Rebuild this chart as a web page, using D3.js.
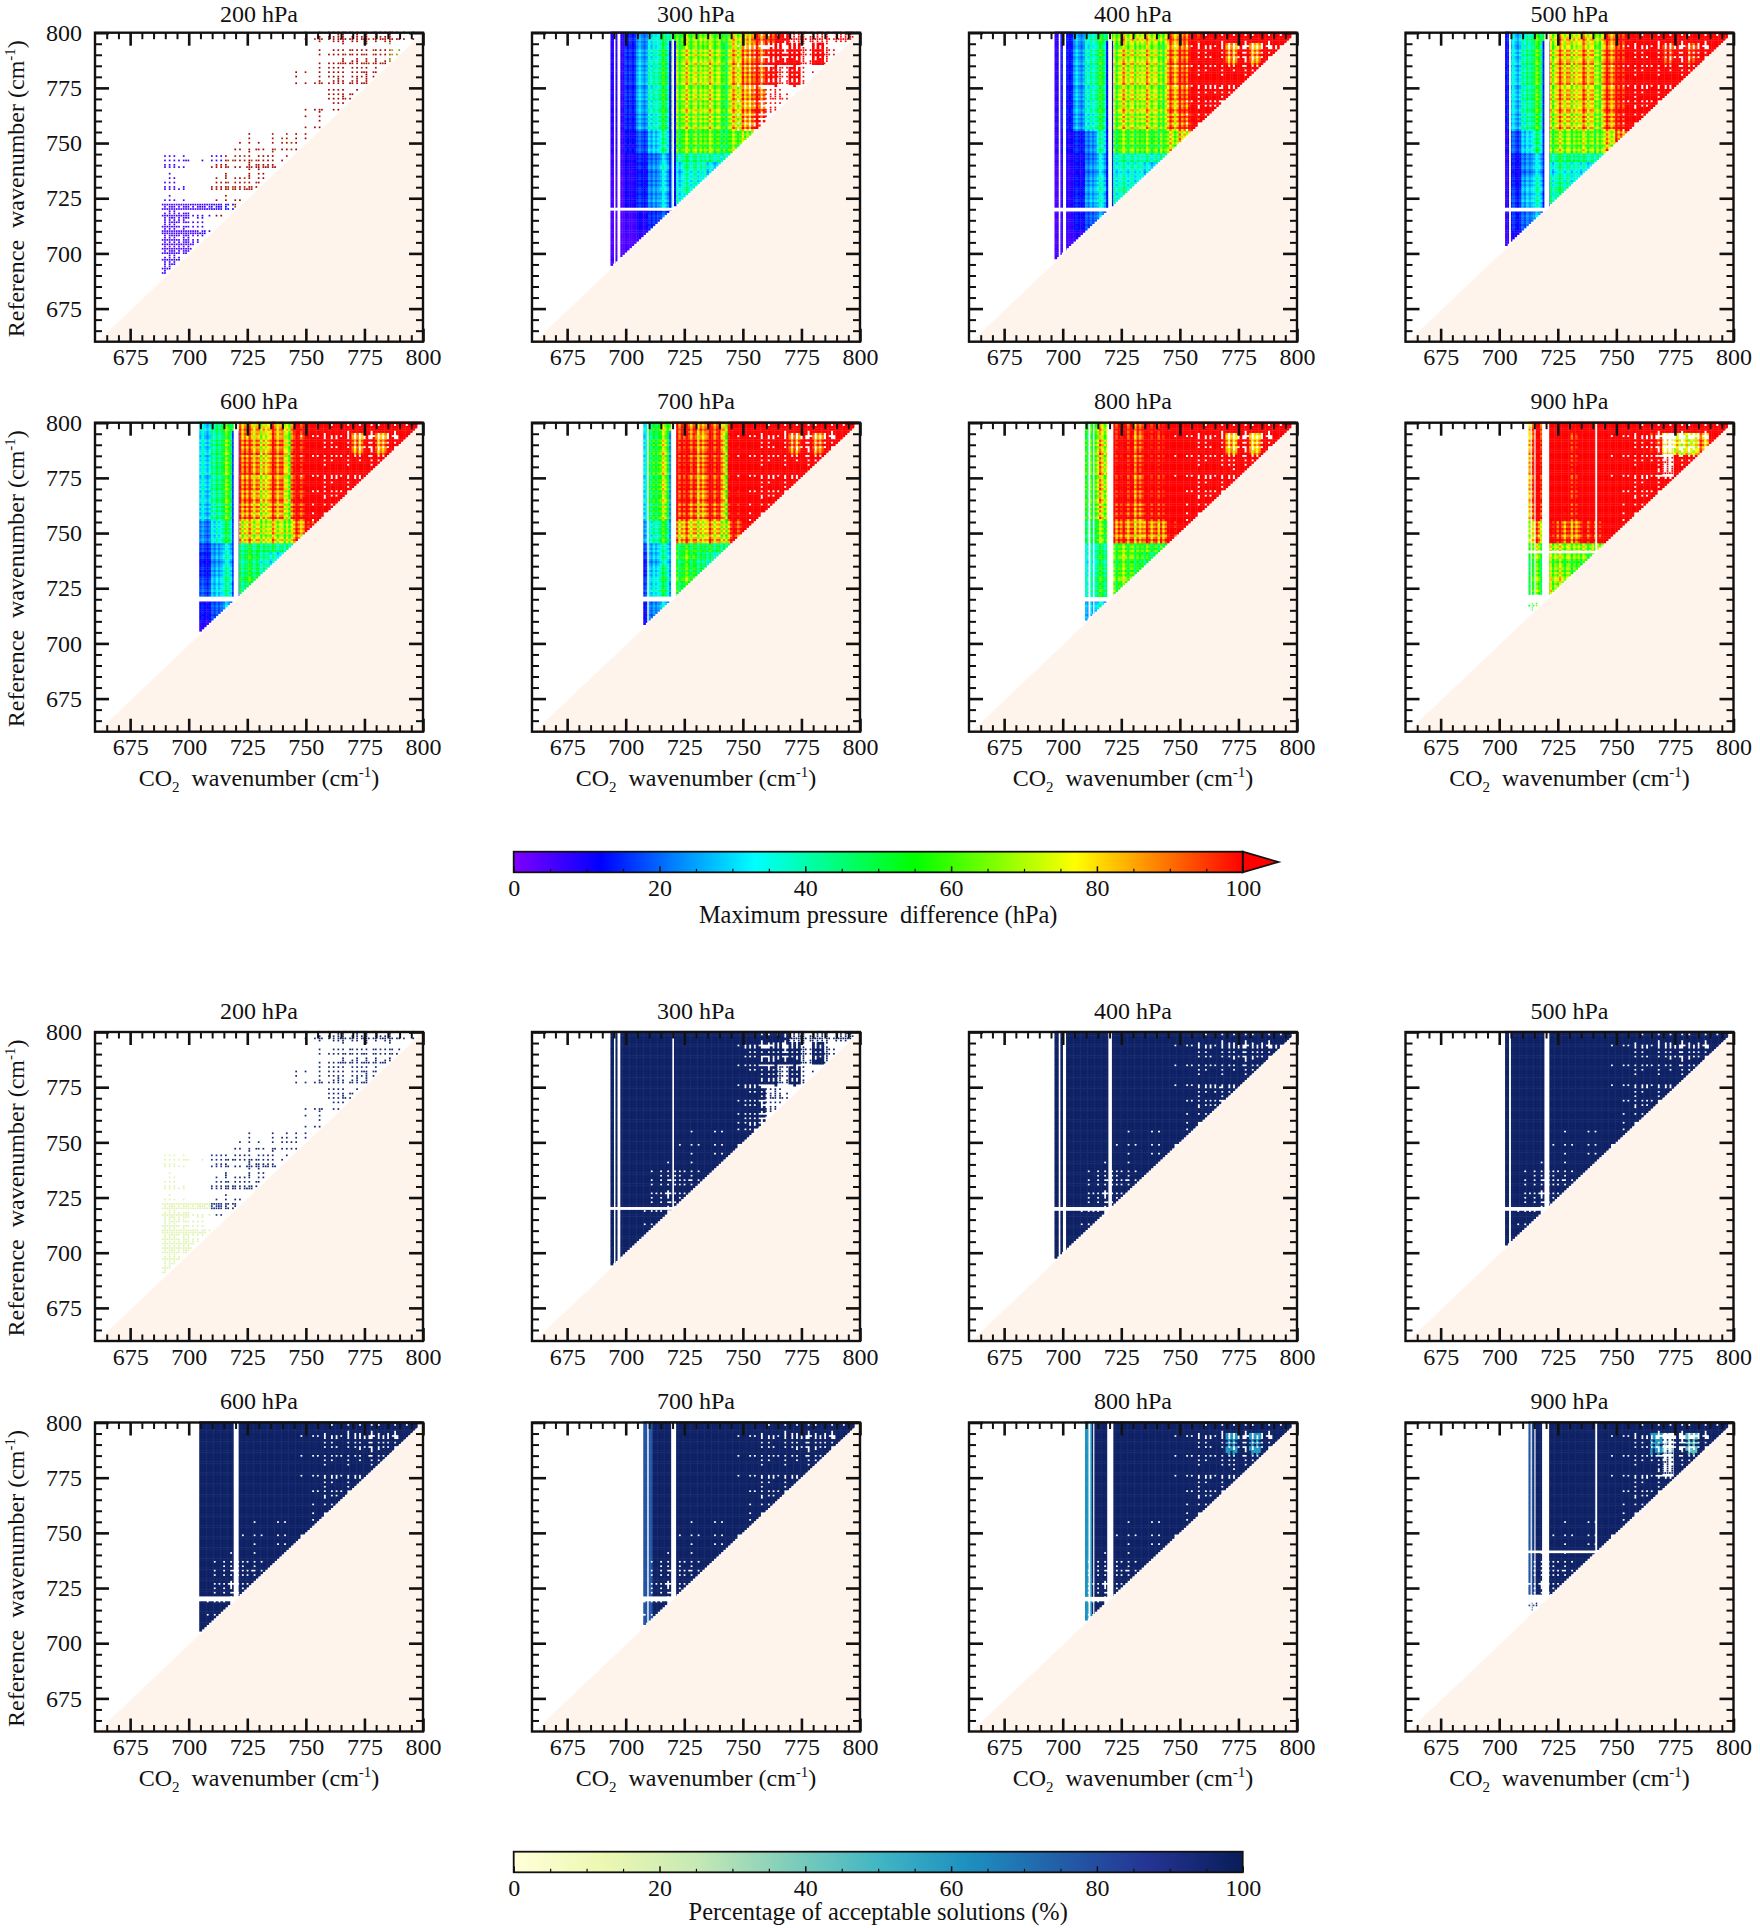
<!DOCTYPE html>
<html>
<head>
<meta charset="utf-8">
<title>Maximum pressure difference and acceptable solutions</title>
<script src="https://cdn.jsdelivr.net/npm/d3@7"></script>
<style>
  html, body { margin: 0; padding: 0; background: #fff; }
  text { font-family: "Liberation Serif", serif; font-size: 24px; fill: #111; white-space: pre; }
</style>
</head>
<body>
<svg id="chart" width="1760" height="1928"></svg>
<script>
// Pressure levels, one panel each, in both groups
var levels = [200, 300, 400, 500, 600, 700, 800, 900];
var axisTicks = [675, 700, 725, 750, 775, 800];
var axisMinor = [665, 670, 680, 685, 690, 695, 705, 710, 715, 720, 730, 735, 740, 745, 755, 760, 765, 770, 780, 785, 790, 795];
var barTicks = [0, 20, 40, 60, 80, 100];
var barMinor = [5, 10, 15, 25, 30, 35, 45, 50, 55, 65, 70, 75, 85, 90, 95];

// Colour bars (value, colour)
var dpStops = [0, 12, 22, 33, 55, 77, 100];
var dpColors = ["#8000ff", "#0000ff", "#0080ff", "#00ffff", "#00ff00", "#ffff00", "#ff0000"];
var pctStops = [0, 12, 25, 38, 50, 62, 75, 87, 100];
var pctColors = ["#ffffd9", "#edf8b1", "#c7e9b4", "#7fcdbb", "#41b6c4", "#1d91c0", "#225ea8", "#253494", "#081d58"];

// Bands of the tables below, wavenumber in cm-1. Rows go from the top of the panel down.
var rowEdges = [800, 795, 785, 775, 765, 755, 745, 741, 735, 728, 722, 719, 710, 700, 688];
var colEdges = [688, 700, 705, 710, 715, 720, 725, 730, 735, 740, 745, 750, 755, 760, 765, 770, 775, 780, 785, 790, 800];

// First CO2 wavenumber with a solution in each panel
var startWn = [689, 694, 697, 703, 705, 708, 710, 713];

// Channels with no data at all
var colGaps = [
  [],
  [[695, 695.6], [696.5, 697.7], [719.9, 720.6]],
  [[698.3, 699], [700.1, 701.4], [719.5, 721]],
  [[704.2, 705], [719.3, 721.4]],
  [[719.2, 721.3]],
  [[709.2, 709.8], [719.4, 721.5]],
  [[711, 711.8], [713, 713.5], [719, 721.6]],
  [[713.4, 713.9], [715, 715.5], [718.3, 721.3], [741, 741.8]]
];
var rowGaps = [
  [],
  [[719.4, 720.7]],
  [[719, 720.7]],
  [[719, 720.7]],
  [[719, 721.2]],
  [[719, 721.2]],
  [[719, 721]],
  [[718.5, 722], [740.8, 742]]
];

// Blue channels on each side of the 720 gap, max pressure difference (hPa)
var edgeCols = [719, 721];
var edgeValue = [null, 13, 13, 14, 16, 25, null, null];
// Green channel near 742 above the 745 row
var stripeCols = [742, 743];
var stripeValue = [null, 52, 60, 62, 66, 70, null, null];

// Channel quality read from the stripes, 0 = best, 9 = worst, from 660 to 800 cm-1
var rankX = ("1728630958" + "2716940385" + "1627305948" + "2806174935" +
             "1738260594" + "3816270495" + "2718360594" + "1826370495" +
             "2917360485" + "1738260495" + "3827160594" + "2718350694" +
             "1836270495" + "2718360594" + "1").split("").map(Number);
var rankY = ("3162748059" + "2718306495" + "1627384950" + "3172648059" +
             "2618374950" + "1728364059" + "2638174950" + "1728364950" +
             "2617384059" + "1627389059" + "2719306849" + "1627389045" +
             "2617390458" + "1728964035" + "1").split("").map(Number);

// Maximum pressure difference (hPa) per band; above 100 is the arrow of the colour bar
var dp200 = [
  [90, 90, 90, 90, 90, 90, 90, 90, 90, 90, 88, 80, 85, 90, 92, 95, 85, 90, 95, 90],
  [90, 90, 90, 90, 90, 90, 90, 90, 90, 90, 85, 80, 85, 88, 90, 95, 85, 88, 70, 60],
  [90, 90, 90, 90, 90, 90, 90, 90, 90, 90, 82, 80, 85, 90, 92, 88, 90, 85],
  [90, 90, 90, 90, 90, 90, 90, 90, 90, 90, 85, 85, 85, 92, 90, 90],
  [90, 90, 90, 90, 90, 90, 90, 90, 90, 90, 85, 85, 88, 90],
  [6, 6, 6, 85, 85, 85, 88, 85, 80, 82, 85, 85],
  [5, 5, 6, 6, 85, 85, 85, 90, 85, 85],
  [5, 5, 5, 85, 85, 85, 90, 95, 95, 90],
  [5, 5, 5, 85, 85, 85, 90, 100],
  [5, 5, 5, 85, 85, 85, 90],
  [5, 5, 6, 8, 10, 85],
  [5, 5, 7, 85, 85],
  [5, 5, 7],
  [6]
];
var dp300 = [
  [8, 14, 22, 32, 42, 55, 62, 62, 62, 60, 70, 80, 90, 95, 105, 115, 115, 115, 110, 100],
  [8, 15, 26, 36, 48, 62, 72, 68, 72, 68, 78, 88, 92, 100, 110, 120, 125, 125, 125, 100],
  [8, 15, 27, 38, 50, 64, 72, 68, 72, 66, 78, 88, 92, 100, 105, 120, 115, 110],
  [8, 15, 27, 38, 50, 64, 72, 68, 72, 66, 78, 85, 92, 100, 105, 110],
  [8, 14, 25, 36, 48, 62, 70, 66, 70, 64, 75, 85, 95, 100],
  [7, 12, 18, 28, 40, 55, 62, 60, 62, 55, 62, 68],
  [6, 10, 14, 20, 28, 40, 45, 42, 42, 40],
  [6, 9, 13, 22, 32, 30, 40, 38, 30, 30],
  [5, 9, 13, 22, 30, 32, 38, 35],
  [5, 10, 15, 24, 30, 36, 38],
  [5, 10, 15, 22, 30, 35],
  [4, 6, 10, 15, 18],
  [4, 5, 7],
  [5]
];
var dp400 = [
  [8, 12, 24, 36, 48, 62, 72, 70, 72, 70, 85, 92, 105, 125, 130, 130, 130, 130, 130, 130],
  [8, 13, 26, 38, 50, 66, 76, 70, 76, 70, 88, 96, 112, 130, 130, 85, 130, 85, 130, 130],
  [8, 13, 26, 38, 50, 66, 76, 70, 76, 70, 88, 96, 112, 130, 130, 130, 130, 130],
  [8, 13, 26, 38, 50, 66, 76, 70, 76, 70, 88, 96, 112, 130, 130, 130],
  [8, 13, 25, 36, 48, 64, 74, 68, 74, 68, 86, 95, 110, 125],
  [7, 10, 14, 22, 38, 55, 62, 58, 60, 58, 70, 80],
  [6, 9, 12, 20, 30, 38, 42, 40, 40, 42],
  [5, 8, 11, 22, 30, 34, 36, 36, 30, 28],
  [5, 8, 12, 24, 34, 36, 38, 34],
  [5, 9, 14, 26, 34, 38, 40],
  [5, 9, 14, 24, 32, 36],
  [5, 7, 12, 18, 24],
  [5, 6, 8],
  [6]
];
var dp500 = [
  [8, 13, 28, 38, 52, 68, 78, 72, 78, 72, 88, 100, 112, 125, 130, 130, 130, 130, 130, 130],
  [8, 13, 30, 42, 55, 72, 85, 76, 85, 78, 92, 104, 118, 130, 130, 95, 130, 95, 130, 130],
  [8, 13, 30, 42, 55, 72, 85, 76, 85, 78, 92, 104, 118, 130, 130, 130, 130, 130],
  [8, 13, 30, 42, 55, 72, 85, 76, 85, 78, 92, 104, 118, 130, 130, 130],
  [8, 13, 28, 40, 52, 70, 82, 74, 82, 72, 90, 104, 118, 130],
  [7, 10, 18, 30, 42, 60, 68, 62, 66, 62, 76, 92],
  [6, 9, 13, 22, 30, 42, 48, 45, 44, 42],
  [6, 8, 12, 22, 30, 32, 40, 36, 32, 30],
  [6, 8, 13, 26, 35, 38, 42, 36],
  [6, 9, 16, 28, 36, 42, 44],
  [6, 9, 16, 26, 34, 40],
  [6, 8, 14, 20, 26],
  [6, 7, 9],
  [6]
];
var dp600 = [
  [0, 0, 30, 42, 55, 84, 82, 74, 84, 80, 100, 115, 130, 130, 130, 130, 130, 130, 130, 130],
  [0, 0, 32, 44, 58, 94, 90, 78, 94, 88, 104, 120, 130, 130, 130, 85, 130, 85, 130, 130],
  [0, 0, 32, 44, 58, 94, 90, 78, 94, 88, 104, 120, 130, 130, 130, 130, 130, 130],
  [0, 0, 32, 44, 58, 94, 90, 78, 94, 88, 104, 120, 130, 130, 130, 130],
  [0, 0, 30, 42, 56, 90, 88, 76, 90, 84, 102, 118, 130, 130],
  [0, 0, 22, 34, 46, 76, 78, 70, 76, 70, 88, 105],
  [0, 0, 16, 24, 32, 44, 48, 46, 46, 44],
  [0, 0, 13, 24, 34, 44, 50, 40, 34, 32],
  [0, 0, 14, 26, 38, 46, 50, 42],
  [0, 0, 18, 30, 40, 46, 50],
  [0, 0, 18, 28, 38, 44],
  [0, 0, 12, 18, 26],
  [0, 0, 8],
  [0]
];
var dp700 = [
  [0, 0, 36, 48, 62, 94, 92, 84, 94, 92, 110, 130, 130, 130, 130, 130, 130, 130, 130, 130],
  [0, 0, 38, 52, 68, 104, 102, 88, 104, 100, 115, 130, 130, 130, 130, 88, 130, 88, 130, 130],
  [0, 0, 38, 52, 68, 104, 102, 88, 104, 100, 115, 130, 130, 130, 130, 130, 130, 130],
  [0, 0, 38, 52, 68, 104, 102, 88, 104, 100, 115, 130, 130, 130, 130, 130],
  [0, 0, 36, 50, 65, 100, 98, 85, 100, 96, 112, 130, 130, 130],
  [0, 0, 28, 38, 52, 82, 84, 76, 84, 78, 100, 120],
  [0, 0, 20, 28, 38, 50, 54, 50, 50, 48],
  [0, 0, 16, 26, 38, 50, 56, 46, 40, 38],
  [0, 0, 16, 30, 44, 52, 56, 48],
  [0, 0, 20, 34, 46, 52, 56],
  [0, 0, 20, 32, 44, 50],
  [0, 0, 14, 22, 30],
  [0, 0, 10],
  [0]
];
var dp800 = [
  [0, 0, 0, 52, 72, 100, 100, 90, 105, 105, 130, 130, 130, 130, 130, 130, 130, 130, 130, 130],
  [0, 0, 0, 55, 78, 110, 110, 95, 115, 110, 130, 130, 130, 130, 130, 80, 130, 80, 130, 130],
  [0, 0, 0, 55, 78, 110, 110, 95, 115, 110, 130, 130, 130, 130, 130, 130, 130, 130],
  [0, 0, 0, 55, 78, 110, 110, 95, 115, 110, 130, 130, 130, 130, 130, 130],
  [0, 0, 0, 54, 75, 105, 105, 92, 110, 108, 130, 130, 130, 130],
  [0, 0, 0, 46, 62, 92, 92, 84, 92, 88, 110, 125],
  [0, 0, 0, 36, 46, 58, 62, 58, 58, 56],
  [0, 0, 0, 34, 48, 56, 62, 54, 48, 46],
  [0, 0, 0, 36, 50, 58, 62, 54],
  [0, 0, 0, 38, 52, 58, 62],
  [0, 0, 0, 36, 50, 56],
  [0, 0, 0, 26, 34],
  [0, 0, 0],
  [0]
];
var dp900 = [
  [0, 0, 0, 82, 100, 130, 115, 108, 125, 125, 130, 130, 130, 130, 130, 130, 130, 130, 130, 130],
  [0, 0, 0, 88, 110, 130, 125, 105, 130, 130, 130, 130, 130, 130, 100, 70, 70, 70, 85, 130],
  [0, 0, 0, 88, 110, 130, 125, 105, 130, 130, 130, 130, 130, 130, 130, 120, 130, 130],
  [0, 0, 0, 88, 110, 130, 125, 105, 130, 130, 130, 130, 130, 130, 130, 130],
  [0, 0, 0, 85, 108, 130, 120, 105, 130, 125, 130, 130, 130, 130],
  [0, 0, 0, 72, 85, 110, 95, 88, 105, 105, 130, 130],
  [0, 0, 0, 62, 68, 72, 72, 68, 68, 70],
  [0, 0, 0, 52, 58, 64, 64, 60, 58, 58],
  [0, 0, 0, 52, 58, 66, 68, 60],
  [0, 0, 0, 54, 60, 70, 70],
  [0, 0, 0, 54, 60, 70],
  [0, 0, 0, 48, 52],
  [0, 0, 0],
  [0]
];
var dpTables = [dp200, dp300, dp400, dp500, dp600, dp700, dp800, dp900];

// How much of each band is filled, 0 = nothing, 9 = every channel pair
var cov200 = ["00000000000123333331", "00000000000012333332", "000000000011232332", "0000000000000332",
  "00000000000121", "000001212222", "3113333322", "2002213322", "20023333", "2001222", "666644", "53210", "653", "5"];
var cov300 = ["99999999998766544434", "99999999998765574741", "999999999987654521", "9999999999876431",
  "99999999998653", "999999999998", "9999999999", "9999999999", "99999999", "9999999", "999999", "99999", "999", "9"];
var cov400 = ["99999999999887766777", "99999999999999878777", "999999999999998877", "9999999999999866",
  "99999999999987", "999999999999", "9999999999", "9999999999", "99999999", "9999999", "999999", "99999", "999", "9"];
var cov500 = ["99999999999988877778", "99999999999999888889", "999999999999998888", "9999999999999988",
  "99999999999998", "999999999999", "9999999999", "9999999999", "99999999", "9999999", "999999", "99999", "999", "9"];
var cov600 = ["99999999999988777778", "99999999999999878789", "999999999999988788", "9999999999999889",
  "99999999999999", "999999999999", "9999999999", "9999999999", "99999999", "9999999", "999999", "99999", "999", "9"];
var cov700 = ["99999999999988777778", "99999999999999877779", "999999999999988789", "9999999999999889",
  "99999999999999", "999999999999", "9999999999", "9999999999", "99999999", "9999999", "999999", "99999", "999", "9"];
var cov800 = ["99999999999987777788", "99999999999998867779", "999999999999987688", "9999999999999888",
  "99999999999999", "999999999999", "9999999999", "9999999999", "99999999", "9999999", "999999", "99999", "999", "9"];
var cov900 = ["99999999999987666678", "99999999999997645569", "999999999999986478", "9999999999999878",
  "99999999999987", "999999999999", "9999999999", "9999999999", "99999999", "9999999", "999999", "99944", "999", "9"];
var covTables = [cov200, cov300, cov400, cov500, cov600, cov700, cov800, cov900];

// Streaks at the top right (all panels but 200 hPa) and, below row 4, holes of the lower group only
var covPct = ["99999999997776666666", "99999999998877766669", "999999999988777777", "9999999999987777",
  "99999999999888", "999998888888", "9999988888", "9998777888", "99976667", "9997677", "998777", "99877", "998", "9"];

// Percentage of acceptable solutions
var pct200 = [16, 16, 18, 90, 95, 95, 95, 95, 95, 95, 95, 95, 95, 95, 95, 95, 95, 95, 95, 95];
var pctFull = 97;
// Pale left stripes: channels below this wavenumber, value
var pctEdgeWn = [null, null, null, null, null, 712, 713, 715];
var pctEdgeVal = [null, null, null, null, null, 78, 62, 78];
// Pale blocks near the top right: level index, row band, column band, value
var pctBlockLevel = [6, 6, 7, 7, 7];
var pctBlockRow = [1, 1, 1, 1, 1];
var pctBlockCol = [15, 17, 15, 17, 14];
var pctBlockVal = [60, 60, 45, 45, 60];

// Panel layout
var panelW = 328, panelH = 309;
var panelX = [95, 532, 969, 1405.5];
var panelY = [[32.7, 422.7], [1032, 1422.5]];

var svg = d3.select("#chart");
var dpColor = d3.scaleLinear().domain(dpStops).range(dpColors).clamp(true);
var pctColor = d3.scaleLinear().domain(pctStops).range(pctColors).clamp(true);
var wavenumbers = d3.range(660, 801);

function bandRow(y) {
  for (var i = 0; i < rowEdges.length - 1; i++) {
    if (y <= rowEdges[i] && y > rowEdges[i + 1]) return i;
  }
  return -1;
}

function bandCol(x) {
  return d3.bisectRight(colEdges, x) - 1;
}

// List every channel pair of a panel with its value
function buildCells(li, group) {
  var cells = [];
  var table = dpTables[li], cov = covTables[li];
  wavenumbers.forEach(function (yw) {
    var r = bandRow(yw);
    if (r < 0) return;
    wavenumbers.forEach(function (xw) {
      if (xw < startWn[li] || yw <= xw) return;
      var c = bandCol(xw);
      if (c < 0 || c >= table[r].length) return;
      var fill = +cov[r][c];
      if (li > 0 && (group === 1 || r < 5)) fill = Math.min(fill, +covPct[r][c]);
      if (fill === 0) return;
      var rx = rankX[xw - 660], ry = rankY[yw - 660];
      if (rx + ry > fill * 2) return;
      var small = li === 0 || fill <= 4;
      var v;
      if (group === 0) {
        var base = table[r][c];
        if (edgeValue[li] !== null && edgeCols.indexOf(xw) >= 0 && yw < 797) base = edgeValue[li];
        if (stripeValue[li] !== null && stripeCols.indexOf(xw) >= 0 && yw > 745) base = stripeValue[li];
        var amp = Math.min(1, base / 70);
        v = base + amp * ((4.5 - rx) * 2.8 + (4.5 - ry) * 2);
        // the 200 hPa dots come out dull and dark in the reference
        var col = li === 0 && v > 30 ? d3.color(dpColor(v)).darker(1.2).formatHex() : dpColor(v);
        cells.push({ x: xw, y: yw, color: col, small: small });
      } else {
        v = li === 0 ? pct200[c] : pctFull;
        if (pctEdgeWn[li] !== null && xw < pctEdgeWn[li]) v = pctEdgeVal[li];
        pctBlockLevel.forEach(function (l, k) {
          if (l === li && pctBlockRow[k] === r && pctBlockCol[k] === c && rx + ry > 5) v = pctBlockVal[k];
        });
        cells.push({ x: xw, y: yw, color: pctColor(v), small: small });
      }
    });
  });
  return cells;
}

function drawAxes(g, x, y, showLeft) {
  var sides = [
    { gen: d3.axisBottom(x), at: [0, panelH], size: -13, labels: true },
    { gen: d3.axisTop(x), at: [0, 0], size: -13, labels: false },
    { gen: d3.axisLeft(y), at: [0, 0], size: -14, labels: showLeft },
    { gen: d3.axisRight(y), at: [panelW, 0], size: -14, labels: false }
  ];
  sides.forEach(function (s) {
    var major = s.gen.tickValues(axisTicks).tickSize(s.size).tickPadding(s.at[1] === panelH ? 6.5 : 13)
      .tickFormat(s.labels ? d3.format("d") : "");
    var a = g.append("g").attr("transform", "translate(" + s.at[0] + "," + s.at[1] + ")").call(major);
    a.select(".domain").remove();
    a.selectAll("line").attr("stroke", "#111").attr("stroke-width", 2.6);
    a.selectAll("text").style("font-family", '"Liberation Serif", serif').style("font-size", "24px").attr("fill", "#111");
    var minor = s.gen.tickValues(axisMinor).tickSize(s.size / 2).tickFormat("");
    var b = g.append("g").attr("transform", "translate(" + s.at[0] + "," + s.at[1] + ")").call(minor);
    b.select(".domain").remove();
    b.selectAll("line").attr("stroke", "#111").attr("stroke-width", 2);
  });
}

function labelWithUnit(sel, before) {
  sel.append("tspan").text(before);
  sel.append("tspan").text("cm");
  sel.append("tspan").attr("dy", -9).style("font-size", "15px").text("-1");
  sel.append("tspan").attr("dy", 9).text(")");
}

function drawPanel(group, row, col, li) {
  var left = panelX[col], top = panelY[group][row];
  var g = svg.append("g").attr("transform", "translate(" + left + "," + top + ")");
  var x = d3.scaleLinear().domain([660, 800]).range([0, panelW]);
  var y = d3.scaleLinear().domain([660, 800]).range([panelH, 0]);
  var cw = x(661) - x(660), ch = y(660) - y(661);
  var grow = group === 1 ? 0.5 : 0.3;

  g.append("g").selectAll("rect")
    .data(buildCells(li, group))
    .join("rect")
    .attr("x", function (d) { return x(d.x - 0.5); })
    .attr("y", function (d) { return y(d.y + 0.5); })
    .attr("width", function (d) { return d.small ? 1.7 : cw + grow; })
    .attr("height", function (d) { return d.small ? 1.7 : ch + grow; })
    .attr("fill", function (d) { return d.color; });

  // Channels with no data
  g.append("g").selectAll("rect").data(colGaps[li]).join("rect")
    .attr("x", function (d) { return x(d[0]); })
    .attr("y", 0)
    .attr("width", function (d) { return x(d[1]) - x(d[0]); })
    .attr("height", panelH)
    .attr("fill", "#fff");
  g.append("g").selectAll("rect").data(rowGaps[li]).join("rect")
    .attr("x", 0)
    .attr("y", function (d) { return y(d[1]); })
    .attr("width", panelW)
    .attr("height", function (d) { return y(d[0]) - y(d[1]); })
    .attr("fill", "#fff");

  // Region where the reference wavenumber is below the CO2 one
  var tri = [[661, 660], [800, 800], [800, 660]];
  g.append("polygon")
    .attr("points", tri.map(function (p) { return x(p[0]) + "," + y(p[1]); }).join(" "))
    .attr("fill", "#fff4ec");

  g.append("rect")
    .attr("width", panelW)
    .attr("height", panelH)
    .attr("fill", "none")
    .attr("stroke", "#111")
    .attr("stroke-width", 2.4);

  drawAxes(g, x, y, col === 0);

  // top row sits right under the page edge
  g.append("text")
    .attr("x", panelW / 2)
    .attr("y", top < 100 ? -11 : -13.5)
    .attr("text-anchor", "middle")
    .text(levels[li] + " hPa");

  if (col === 0) {
    var yt = g.append("text")
      .attr("transform", "translate(" + (24 - left) + "," + (panelH / 2 + 1.5) + ") rotate(-90)")
      .attr("text-anchor", "middle");
    labelWithUnit(yt, "Reference  wavenumber (");
  }
  if (row === 1) {
    var xt = g.append("text")
      .attr("x", panelW / 2)
      .attr("y", panelH + 54)
      .attr("text-anchor", "middle");
    xt.append("tspan").text("CO");
    xt.append("tspan").attr("dy", 6).style("font-size", "15px").text("2");
    xt.append("tspan").attr("dy", -6).text("  wavenumber (");
    xt.append("tspan").text("cm");
    xt.append("tspan").attr("dy", -9).style("font-size", "15px").text("-1");
    xt.append("tspan").attr("dy", 9).text(")");
  }
}

function drawBar(id, top, stops, colors, label, labelY, arrow) {
  var barX = 513.7, barW = 729, barH = 20.6;
  var s = d3.scaleLinear().domain([0, 100]).range([0, barW]);
  var defs = svg.append("defs").append("linearGradient").attr("id", id);
  defs.selectAll("stop").data(stops).join("stop")
    .attr("offset", function (d) { return d + "%"; })
    .attr("stop-color", function (d, i) { return colors[i]; });

  var g = svg.append("g").attr("transform", "translate(" + barX + "," + top + ")");
  if (arrow) {
    g.append("polygon")
      .attr("points", s(100) + ",0 " + s(104.9) + "," + (barH / 2) + " " + s(100) + "," + barH)
      .attr("fill", colors[colors.length - 1])
      .attr("stroke", "#111")
      .attr("stroke-width", 1.8);
  }
  g.append("rect").attr("width", barW).attr("height", barH).attr("fill", "url(#" + id + ")")
    .attr("stroke", "#111").attr("stroke-width", 1.8);

  var major = d3.axisBottom(s).tickValues(barTicks).tickSize(-6).tickPadding(7);
  var a = g.append("g").attr("transform", "translate(0," + barH + ")").call(major);
  a.select(".domain").remove();
  a.selectAll("line").attr("stroke", "#111").attr("stroke-width", 1.5);
  a.selectAll("text").style("font-family", '"Liberation Serif", serif').style("font-size", "24px").attr("fill", "#111");
  var minor = d3.axisBottom(s).tickValues(barMinor).tickSize(-3.5).tickFormat("");
  var b = g.append("g").attr("transform", "translate(0," + barH + ")").call(minor);
  b.select(".domain").remove();
  b.selectAll("line").attr("stroke", "#111").attr("stroke-width", 1.2);

  svg.append("text")
    .attr("x", barX + barW / 2)
    .attr("y", labelY)
    .attr("text-anchor", "middle")
    .style("font-size", "24.4px")
    .text(label);
}

[0, 1].forEach(function (group) {
  levels.forEach(function (lev, li) {
    drawPanel(group, Math.floor(li / 4), li % 4, li);
  });
});

drawBar("dpGrad", 851.7, dpStops, dpColors, "Maximum pressure  difference (hPa)", 923, true);
drawBar("pctGrad", 1851.7, pctStops, pctColors, "Percentage of acceptable solutions (%)", 1920, false);
</script>
</body>
</html>
